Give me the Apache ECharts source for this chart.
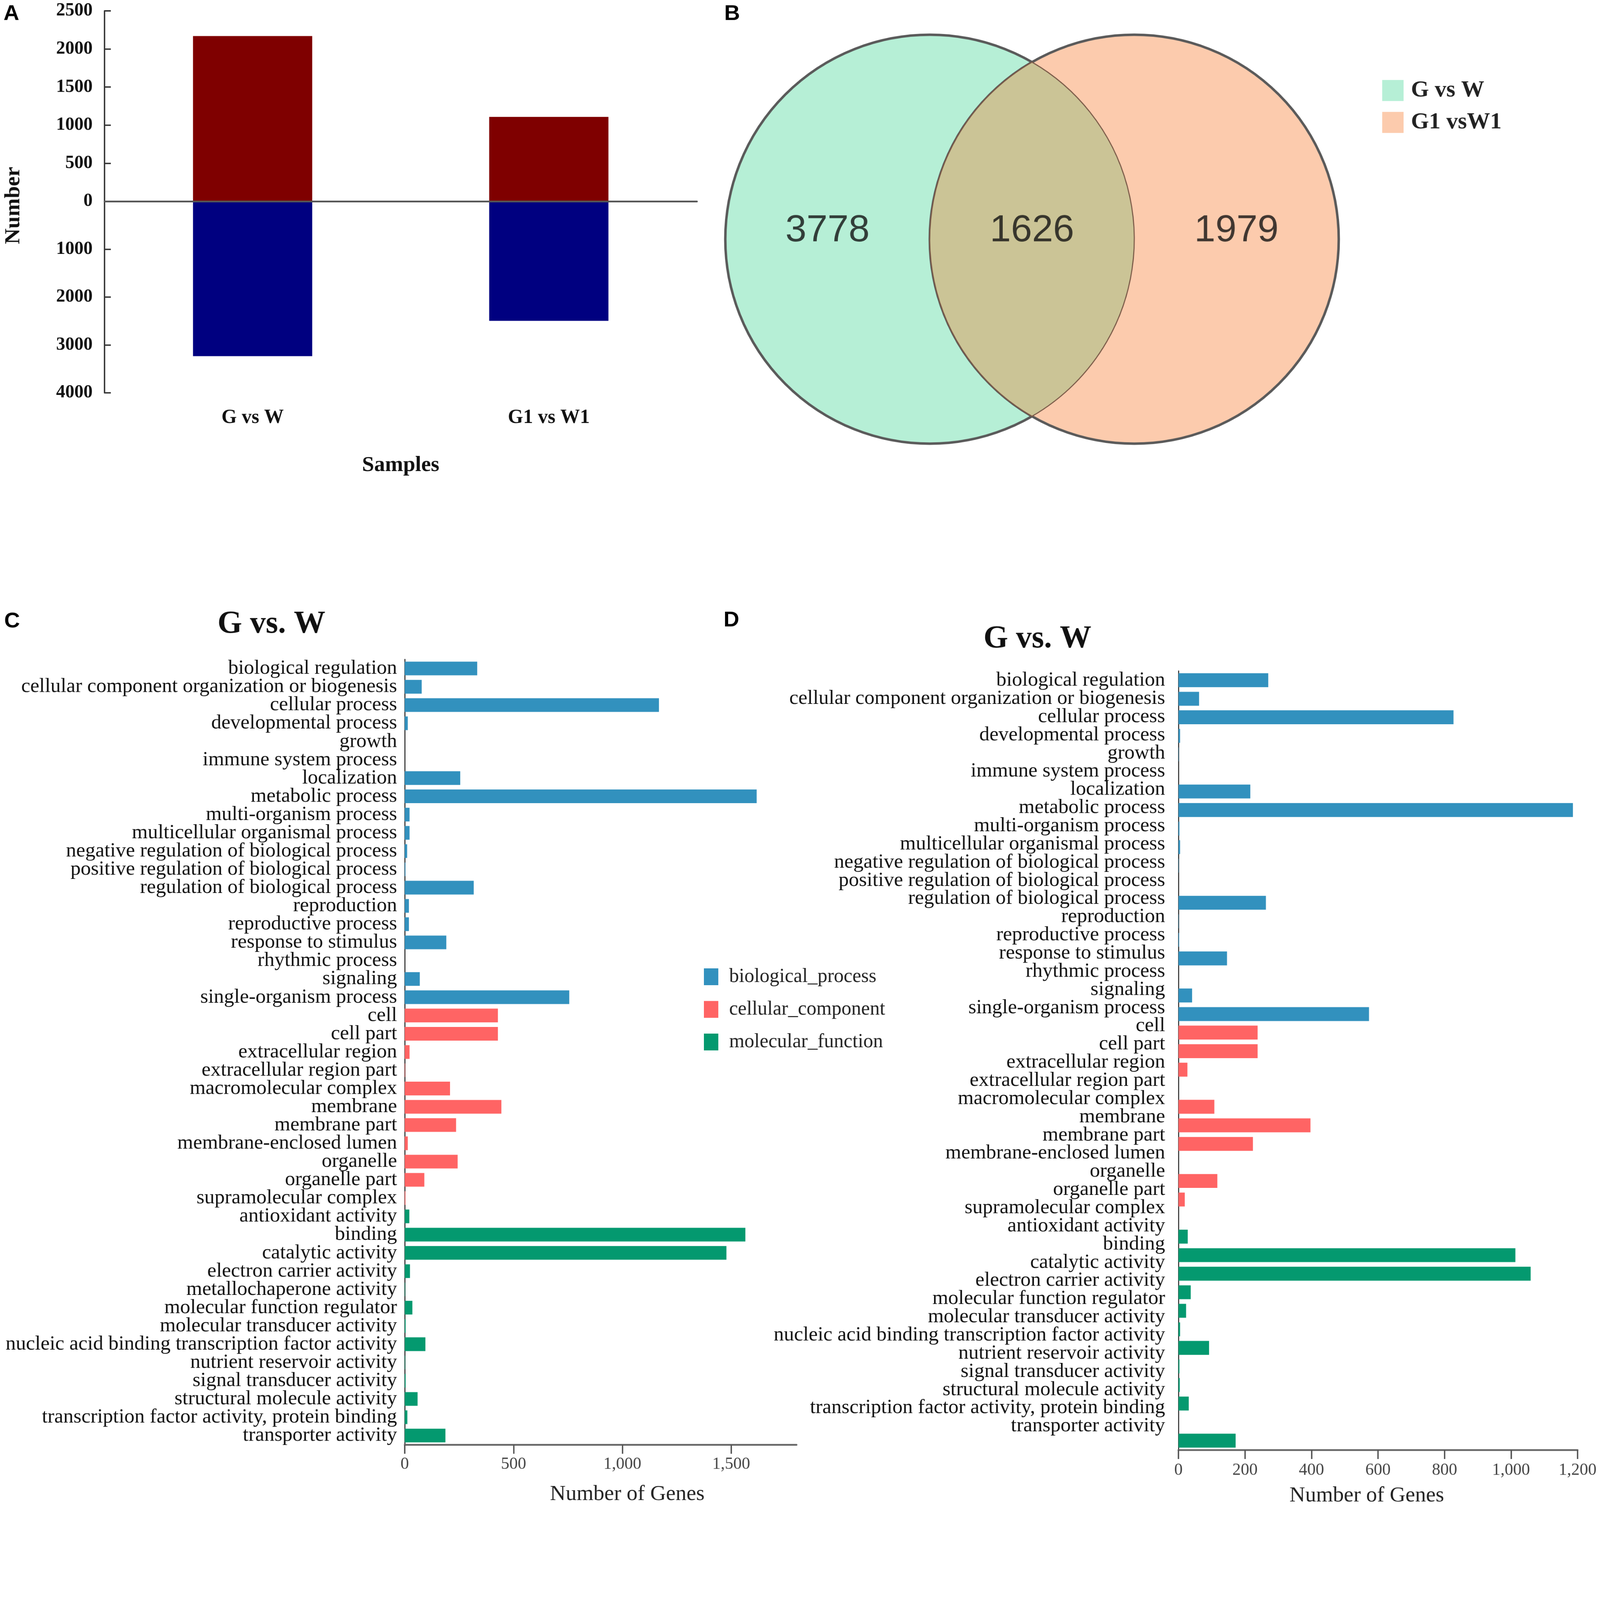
<!DOCTYPE html>
<html>
<head>
<meta charset="utf-8">
<title>DEG summary and GO classification</title>
<script src="https://cdn.jsdelivr.net/npm/echarts@6/dist/echarts.min.js"></script>
<style>
  html, body { margin: 0; padding: 0; background: #fff; overflow: hidden; }
  #main { width: 4562px; height: 4296px; transform-origin: 0 0; }
</style>
</head>
<body>
<div id="main"></div>
<script>
// ---- panel A: up / down regulated genes ----
var samples = ['G vs W', 'G1 vs W1'];
var upCounts = [2170, 1108];
var downCounts = [3234, 2497];
var upTicks = [0, 500, 1000, 1500, 2000, 2500];
var downTicks = [0, 1000, 2000, 3000, 4000];

// ---- panel B: venn ----
var vennNames = ['G vs W', 'G1 vsW1'];
var vennColors = ['#B6EFD6', '#FCCBAD'];
var vennCenterX = [-0.5, 0.5];
var vennRadius = 1;
var vennCounts = [3778, 1626, 1979];
var vennCountX = [-1, 0, 1];

// ---- panels C / D: GO classification ----
var goGroups = ['biological_process', 'cellular_component', 'molecular_function'];
var goColors = ['#3291BE', '#FF6464', '#04996F'];

var bpTerms = ['biological regulation', 'cellular component organization or biogenesis', 'cellular process',
  'developmental process', 'growth', 'immune system process', 'localization', 'metabolic process',
  'multi-organism process', 'multicellular organismal process', 'negative regulation of biological process',
  'positive regulation of biological process', 'regulation of biological process', 'reproduction',
  'reproductive process', 'response to stimulus', 'rhythmic process', 'signaling', 'single-organism process'];
var ccTerms = ['cell', 'cell part', 'extracellular region', 'extracellular region part', 'macromolecular complex',
  'membrane', 'membrane part', 'membrane-enclosed lumen', 'organelle', 'organelle part', 'supramolecular complex'];
var mfTermsC = ['antioxidant activity', 'binding', 'catalytic activity', 'electron carrier activity',
  'metallochaperone activity', 'molecular function regulator', 'molecular transducer activity',
  'nucleic acid binding transcription factor activity', 'nutrient reservoir activity', 'signal transducer activity',
  'structural molecule activity', 'transcription factor activity, protein binding', 'transporter activity'];
var mfTermsD = ['antioxidant activity', 'binding', 'catalytic activity', 'electron carrier activity',
  'molecular function regulator', 'molecular transducer activity',
  'nucleic acid binding transcription factor activity', 'nutrient reservoir activity', 'signal transducer activity',
  'structural molecule activity', 'transcription factor activity, protein binding', 'transporter activity'];

var cBP = [333, 78, 1168, 14, 0, 0, 255, 1617, 22, 22, 11, 3, 317, 19, 19, 191, 0, 69, 756];
var cCC = [428, 428, 22, 2, 208, 444, 236, 14, 243, 90, 3];
var cMF = [21, 1565, 1478, 24, 2, 35, 4, 95, 2, 4, 59, 12, 187];

var dBP = [270, 62, 827, 5, 1, 0, 216, 1186, 3, 5, 1, 0, 263, 1, 2, 146, 0, 41, 573];
var dCC = [238, 238, 27, 0, 108, 397, 224, 0, 117, 19, 0];
var dMF = [28, 1013, 1059, 37, 23, 5, 92, 3, 4, 31, 0, 172];

var cTicks = [0, 500, 1000, 1500];
var cMax = 1800;
var dTicks = [0, 200, 400, 600, 800, 1000, 1200];

var SERIF = "'Liberation Serif', 'Times New Roman', serif";
var SANS = "'Liberation Sans', Arial, sans-serif";

var cTerms = bpTerms.concat(ccTerms, mfTermsC);
var dTerms = bpTerms.concat(ccTerms, mfTermsD);

function thousands(v) {
  return String(v).replace(/\B(?=(\d{3})+(?!\d))/g, ',');
}

function goSeries(lists, axis) {
  var total = 0;
  lists.forEach(function (l) { total += l.length; });
  var offset = 0;
  return lists.map(function (vals, g) {
    var data = [];
    for (var k = 0; k < total; k++) data.push('-');
    vals.forEach(function (v, k) { data[offset + k] = v; });
    offset += vals.length;
    return {
      name: goGroups[g], type: 'bar', xAxisIndex: axis, yAxisIndex: axis,
      stack: 'go' + axis, barCategoryGap: '25%',
      itemStyle: { color: goColors[g] }, data: data
    };
  });
}

function goValueAxis(grid, ticks, max, nameGap, namePad, labelMargin) {
  return {
    gridIndex: grid, type: 'value', min: ticks[0], max: max, interval: ticks[1] - ticks[0],
    axisLine: { show: true, lineStyle: { color: '#666', width: 5 } },
    axisTick: { show: true, length: 26, lineStyle: { color: '#555', width: 4 } },
    axisLabel: { showMaxLabel: max === ticks[ticks.length - 1], margin: labelMargin,
      formatter: thousands, fontFamily: SERIF, fontSize: 48, color: '#444' },
    splitLine: { show: false },
    name: 'Number of Genes', nameLocation: 'middle', nameGap: nameGap,
    nameTextStyle: { fontFamily: SERIF, fontSize: 62, color: '#222', padding: namePad }
  };
}

function aValueAxis(grid, ticks, inverse) {
  return {
    gridIndex: grid, type: 'value', inverse: inverse,
    min: ticks[0], max: ticks[ticks.length - 1], interval: ticks[1] - ticks[0],
    axisLine: { show: true, lineStyle: { color: '#333', width: 4 } },
    axisTick: { show: true, inside: true, length: 18, lineStyle: { color: '#333', width: 4 } },
    axisLabel: { margin: 34, showMinLabel: !inverse, formatter: function (v) { return String(v); },
      fontFamily: SERIF, fontWeight: 'bold', fontSize: 52, color: '#111' },
    splitLine: { show: false }
  };
}

// fit the 4562 x 4296 drawing into whatever viewport we get
var el = document.getElementById('main');
var fit = Math.min(window.innerWidth / 4562, window.innerHeight / 4296, 1);
if (fit > 0 && fit < 1) el.style.transform = 'scale(' + fit + ')';

var chart = echarts.init(el, null, { renderer: 'canvas', width: 4562, height: 4296 });

var option = {
  backgroundColor: '#fff',
  animation: false,
  grid: [
    { left: 298, top: 31, width: 1689, height: 543, containLabel: false, outerBoundsMode: 'none' },
    { left: 298, top: 574, width: 1689, height: 546, containLabel: false, outerBoundsMode: 'none' },
    { left: 2068, top: 99, width: 1749, height: 1166, containLabel: false, outerBoundsMode: 'none' },
    { left: 1154, top: 1880, width: 1117, height: 2239, containLabel: false, outerBoundsMode: 'none' },
    { left: 3360, top: 1913, width: 1138, height: 2221, containLabel: false, outerBoundsMode: 'none' },
    { left: 3360, top: 1914, width: 1138, height: 2178, containLabel: false, outerBoundsMode: 'none' }
  ],
  xAxis: [
    { gridIndex: 0, type: 'category', data: samples, z: 5,
      axisLine: { lineStyle: { color: '#555', width: 5 } },
      axisTick: { inside: true, alignWithLabel: true, length: 20, lineStyle: { color: '#333', width: 4 } },
      axisLabel: { show: false } },
    { gridIndex: 1, type: 'category', data: samples, position: 'bottom',
      axisLine: { show: false, onZero: false }, axisTick: { show: false },
      axisLabel: { margin: 44, fontFamily: SERIF, fontWeight: 'bold', fontSize: 56, color: '#111' },
      name: 'Samples', nameLocation: 'middle', nameGap: 176,
      nameTextStyle: { fontFamily: SERIF, fontWeight: 'bold', fontSize: 62, color: '#111' } },
    { gridIndex: 2, type: 'value', min: -1.5, max: 1.5, show: false },
    goValueAxis(3, cTicks, cMax, 111, [0, 0, 0, 152], 32),
    goValueAxis(4, dTicks, dTicks[dTicks.length - 1], 100, [0, 64, 0, 0], 34),
    { gridIndex: 5, type: 'value', show: false }
  ],
  yAxis: [
    aValueAxis(0, upTicks, false),
    aValueAxis(1, downTicks, true),
    { gridIndex: 2, type: 'value', min: -1, max: 1, show: false },
    { gridIndex: 3, type: 'category', inverse: true, data: cTerms,
      axisLine: { lineStyle: { color: '#333', width: 3 } },
      axisTick: { alignWithLabel: true, interval: 0, length: 14, lineStyle: { color: '#333', width: 3 } },
      axisLabel: { interval: 0, margin: 22, fontFamily: SERIF, fontSize: 58, color: '#111' } },
    { gridIndex: 4, type: 'category', inverse: true, data: dTerms,
      axisLine: { lineStyle: { color: '#333', width: 3 } },
      axisTick: { alignWithLabel: true, interval: 0, length: 14, lineStyle: { color: '#333', width: 3 } },
      axisLabel: { show: false } },
    // D's labels sit on a slightly tighter spacing than its bars
    { gridIndex: 5, type: 'category', inverse: true, data: dTerms,
      axisLine: { show: false }, axisTick: { show: false },
      axisLabel: { interval: 0, margin: 38, fontFamily: SERIF, fontSize: 58, color: '#111' } }
  ],
  legend: [
    { data: vennNames, orient: 'vertical', left: 3936, top: 220, icon: 'rect',
      itemWidth: 61, itemHeight: 60, itemGap: 25, selectedMode: false,
      textStyle: { fontFamily: SERIF, fontWeight: 'bold', fontSize: 66, color: '#222', padding: [0, 0, 0, 16] } },
    { data: goGroups, orient: 'vertical', left: 2002, top: 2752, icon: 'rect',
      itemWidth: 41, itemHeight: 48, itemGap: 37, selectedMode: false,
      textStyle: { fontFamily: SERIF, fontSize: 56, color: '#222', padding: [0, 0, 0, 26] } }
  ],
  graphic: [
    { type: 'text', x: 10, y: 40, style: { text: 'A', font: 'bold 62px ' + SANS, fill: '#000', textVerticalAlign: 'middle', verticalAlign: 'middle' } },
    { type: 'text', x: 2065, y: 40, style: { text: 'B', font: 'bold 62px ' + SANS, fill: '#000', textVerticalAlign: 'middle', verticalAlign: 'middle' } },
    { type: 'text', x: 12, y: 1772, style: { text: 'C', font: 'bold 62px ' + SANS, fill: '#000', textVerticalAlign: 'middle', verticalAlign: 'middle' } },
    { type: 'text', x: 2063, y: 1769, style: { text: 'D', font: 'bold 62px ' + SANS, fill: '#000', textVerticalAlign: 'middle', verticalAlign: 'middle' } },
    { type: 'text', x: 774, y: 1781, style: { text: 'G vs. W', font: 'bold 90px ' + SERIF, fill: '#111',
      textAlign: 'center', align: 'center', textVerticalAlign: 'middle', verticalAlign: 'middle' } },
    { type: 'text', x: 2958, y: 1823, style: { text: 'G vs. W', font: 'bold 90px ' + SERIF, fill: '#111',
      textAlign: 'center', align: 'center', textVerticalAlign: 'middle', verticalAlign: 'middle' } },
    { type: 'text', x: 39, y: 586, rotation: Math.PI / 2, style: { text: 'Number', font: 'bold 62px ' + SERIF, fill: '#111',
      textAlign: 'center', align: 'center', textVerticalAlign: 'middle', verticalAlign: 'middle' } }
  ],
  series: [
    { type: 'bar', xAxisIndex: 0, yAxisIndex: 0, data: upCounts, barWidth: 340, itemStyle: { color: '#7F0000' } },
    { type: 'bar', xAxisIndex: 1, yAxisIndex: 1, data: downCounts, barWidth: 340, itemStyle: { color: '#000080' } }
  ]
};

// venn circles
vennNames.forEach(function (name, i) {
  option.series.push({
    name: name, type: 'custom', coordinateSystem: 'cartesian2d', xAxisIndex: 2, yAxisIndex: 2, z: 2 + i,
    itemStyle: { color: vennColors[i] },
    data: [[vennCenterX[i], 0, vennRadius]],
    renderItem: function (params, api) {
      var c = api.coord([api.value(0), api.value(1)]);
      var r = api.size([api.value(2), api.value(2)])[0];
      return { type: 'circle', shape: { cx: c[0], cy: c[1], r: r },
        style: { fill: vennColors[i], stroke: '#5a5a5a', lineWidth: 7 } };
    }
  });
});

// overlap lens
option.series.push({
  type: 'custom', coordinateSystem: 'cartesian2d', xAxisIndex: 2, yAxisIndex: 2, z: 4,
  data: [[vennCenterX[0], 0, vennCenterX[1], vennRadius]],
  renderItem: function (params, api) {
    var p1 = api.coord([api.value(0), api.value(1)]);
    var p2 = api.coord([api.value(2), api.value(1)]);
    var r = api.size([api.value(3), api.value(3)])[0];
    var d = p2[0] - p1[0];
    var h = Math.sqrt(r * r - d * d / 4);
    var mx = (p1[0] + p2[0]) / 2;
    var ty = p1[1] - h, by = p1[1] + h;
    var path = 'M ' + mx + ' ' + ty +
      ' A ' + r + ' ' + r + ' 0 0 1 ' + mx + ' ' + by +
      ' A ' + r + ' ' + r + ' 0 0 1 ' + mx + ' ' + ty + ' Z';
    return { type: 'path', shape: { pathData: path },
      style: { fill: '#CBC496', stroke: '#7a5a48', lineWidth: 3 } };
  }
});

// venn counts
option.series.push({
  type: 'scatter', xAxisIndex: 2, yAxisIndex: 2, z: 6, symbolSize: 1,
  itemStyle: { color: 'rgba(0,0,0,0)' },
  data: vennCounts.map(function (v, i) { return [vennCountX[i], 0.04, v]; }),
  label: { show: true, position: 'inside', formatter: function (p) { return p.value[2]; },
    fontFamily: SANS, fontSize: 108, color: '#111' }
});

option.series = option.series.concat(goSeries([cBP, cCC, cMF], 3), goSeries([dBP, dCC, dMF], 4));

chart.setOption(option);
</script>
</body>
</html>
